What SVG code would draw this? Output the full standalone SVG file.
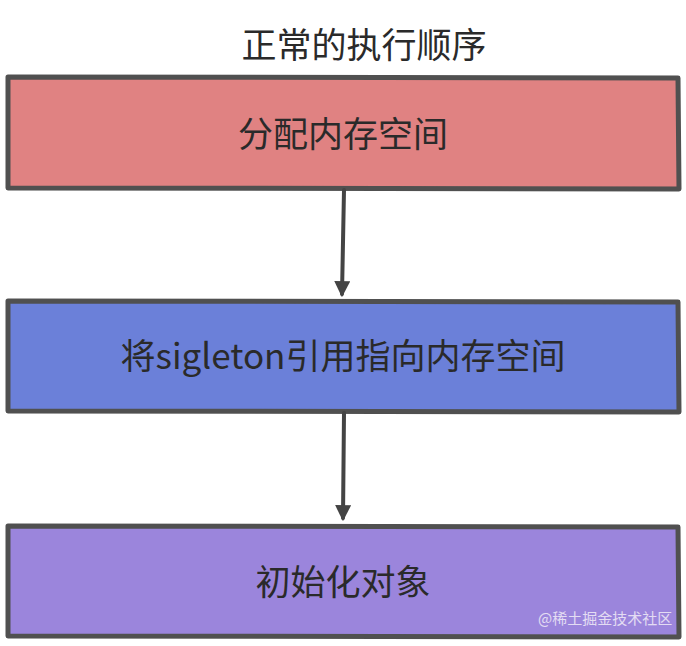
<svg xmlns="http://www.w3.org/2000/svg" width="686" height="646" viewBox="0 0 686 646">
<style>
.box{stroke:#505050;stroke-width:5;stroke-linejoin:round}
.lbl{font-family:"Noto Sans CJK SC","Noto Sans",sans-serif;font-size:35px;fill:#2a2a2a;text-anchor:middle}
.conn{stroke:#444;stroke-width:4;fill:none;stroke-linecap:round}
.wm{font-family:"Noto Sans CJK SC",sans-serif;font-size:15px;fill:#ece6f6;opacity:0.9}
</style>
<defs>
<marker id="ah" viewBox="0 0 10 10" refX="8" refY="5" markerWidth="4" markerHeight="4" orient="auto">
<path d="M0,0 L10,5 L0,10 Z" fill="#444"/>
</marker>
</defs>
<text class="lbl" x="364" y="58">正常的执行顺序</text>
<g id="n1">
<path class="box" fill="#e08282" d="M8,77 L678,78 L679,189 L8,188 Z"/>
<text class="lbl" x="343" y="147">分配内存空间</text>
</g>
<g id="n2">
<path class="box" fill="#6b80d9" d="M8,301 L678,302 L679,412 L8,411 Z"/>
<text class="lbl" x="343" y="369">将sigleton引用指向内存空间</text>
</g>
<g id="n3">
<path class="box" fill="#9b85dc" d="M8,526 L678,527 L679,637 L8,636 Z"/>
<text class="lbl" x="343" y="595">初始化对象</text>
</g>
<g id="connectors">
<path class="conn" d="M344,190 L342,294" marker-end="url(#ah)"/>
<path class="conn" d="M344,413 L343,518" marker-end="url(#ah)"/>
</g>
<text class="wm" x="538" y="624">@稀土掘金技术社区</text>
</svg>
